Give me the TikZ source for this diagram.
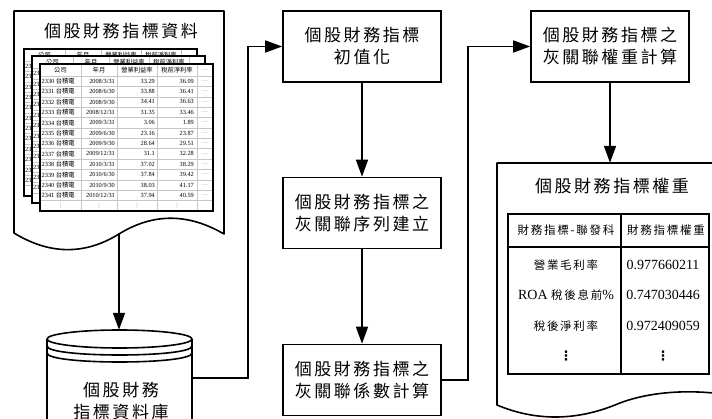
\documentclass[tikz,border=0pt]{standalone}
\usepackage{fontspec}
\setmainfont{Liberation Serif}
\newfontfamily\cjk{Noto Sans CJK TC}
\newfontfamily\cjks[LetterSpace=15]{Noto Sans CJK TC}
\newfontfamily\dejavu{DejaVu Sans}
\usetikzlibrary{arrows.meta}
\newcommand\bigtxt{\cjks\fontsize{17}{22}\selectfont}
\newcommand\midtxt{\cjks\fontsize{11.5}{14}\selectfont}
\newcommand\DS{/}
\tikzset{
  shp/.style={line width=1.6pt, draw=black, fill=white, line join=round},
  procbox/.style={draw, line width=1.6pt, minimum width=158pt, minimum height=71pt, inner sep=0pt, align=center, font=\bigtxt},
  arr/.style={line width=1.6pt, -{Triangle[length=17pt,width=12pt]}},
  gridl/.style={draw=gray!45, line width=0.4pt},
  tcell/.style={inner sep=0pt, font=\fontsize{6.3}{7}\selectfont},
  region/.style={inner sep=0pt, draw=none},
  wcell/.style={inner sep=0pt, font=\fontsize{14}{16}\selectfont},
}
% grid and frame of one sheet
\newcommand\sheetgrid{%
\fill[white] (0,0) rectangle (173,147);
\foreach \xx in {41,77,117,157} \draw[gridl] (\xx,0) -- (\xx,147);
\foreach \r in {0,...,12} \draw[gridl] (0,{12+\r*10.38}) -- (173,{12+\r*10.38});
}
\newcommand\sheethead[1]{%
\node[tcell] (#1-h1) at (20.5,6) {\cjk 公司};
\node[tcell] (#1-h2) at (59,6) {\cjk 年月};
\node[tcell] (#1-h3) at (97,6) {\cjk 營業利益率};
\node[tcell] (#1-h4) at (137,6) {\cjk 稅前淨利率};
}
% sheet seen behind the front one: only its top and left strips show
\newcommand\backtable[3]{%
\begin{scope}[shift={(#1,#2)}]
\sheetgrid
\sheethead{#3}
\foreach \i in {1,...,12}
  \node[tcell, anchor=west] (#3-\i-a) at (1,{12+(\i-0.5)*10.38}) {23};
\draw[line width=2pt] (0,0) rectangle (173,147);
\end{scope}}
% front sheet, fully readable
\newcommand\datatable[3]{%
\begin{scope}[shift={(#1,#2)}]
\sheetgrid
\sheethead{#3}
\node[tcell, text=gray] (#3-h5) at (165,6) {…};
\foreach \i/\a/\b/\c/\d in {1/2330/2008\DS3\DS31/33.29/36.09,
  2/2331/2008\DS6\DS30/33.88/36.41,
  3/2332/2008\DS9\DS30/34.41/36.63,
  4/2333/2008\DS12\DS31/31.35/33.46,
  5/2334/2009\DS3\DS31/3.06/1.89,
  6/2335/2009\DS6\DS30/23.16/23.87,
  7/2336/2009\DS9\DS30/28.64/29.51,
  8/2337/2009\DS12\DS31/31.1/32.28,
  9/2338/2010\DS3\DS31/37.02/38.29,
  10/2339/2010\DS6\DS30/37.84/39.42,
  11/2340/2010\DS9\DS30/38.03/41.17,
  12/2341/2010\DS12\DS31/37.94/40.59} {
  \node[tcell, anchor=west] (#3-\i-a) at (1.5,{12+(\i-0.5)*10.38}) {\a\ {\cjk 台積電}};
  \node[tcell, anchor=east] (#3-\i-b) at (75,{12+(\i-0.5)*10.38}) {\b};
  \node[tcell, anchor=east] (#3-\i-c) at (115,{12+(\i-0.5)*10.38}) {\c};
  \node[tcell, anchor=east] (#3-\i-d) at (154,{12+(\i-0.5)*10.38}) {\d};
  \node[tcell, text=gray] (#3-\i-e) at (165,{12+(\i-0.5)*10.38}) {…};
}
\foreach \k/\xx in {1/20.5,2/59,3/97,4/137}
  \node[tcell, text=gray, font=\dejavu\fontsize{6}{7}\selectfont] (#3-v\k) at (\xx,{12+12.5*10.38}) {⋮};
\draw[line width=2pt] (0,0) rectangle (173,147);
\end{scope}}

\begin{document}
\begin{tikzpicture}[x=1pt,y=-1pt]
\clip (0,0) rectangle (712,419);
\fill[white] (0,0) rectangle (712,419);

% --- source document
\node[region, minimum width=210pt, minimum height=222pt] (doc1) at (119,122) {};
\draw[shp] (14,233) -- (14,11) -- (224,11) -- (224,234)
  .. controls (188,213) and (153,213) .. (119,234)
  .. controls (85,255) and (50,255) .. (14,233) -- cycle;
\node[font=\bigtxt] (doc1title) at (121,31) {個股財務指標資料};
\backtable{24}{49}{tc}
\backtable{32}{56.5}{tb}
\datatable{40}{64}{ta}

% --- database cylinder
\node[region, minimum width=145pt, minimum height=96pt] (cyl) at (119.5,378) {};
\draw[shp] (47,339) -- (47,450) -- (192,450) -- (192,339);
\draw[shp] (119.5,339) ellipse [x radius=72.5, y radius=9];
\draw[line width=1.6pt] (47,346) .. controls (47,358) and (192,358) .. (192,346);
\draw[line width=1.6pt] (47,353) .. controls (47,365) and (192,365) .. (192,353);
\node[font=\bigtxt, align=center] (cyltext) at (121,401) {個股財務\\指標資料庫};

% --- process boxes
\node[procbox] (A) at (362,46.5) {個股財務指標\\初值化};
\node[procbox] (B) at (362,213) {個股財務指標之\\灰關聯序列建立};
\node[procbox] (C) at (362,380) {個股財務指標之\\灰關聯係數計算};
\node[procbox] (D) at (610,46.5) {個股財務指標之\\灰關聯權重計算};

% --- result document
\node[region, minimum width=243pt, minimum height=242pt] (doc2) at (618.5,284) {};
\draw[shp] (497,405) -- (497,163) -- (745,163) -- (745,398)
  .. controls (700,388) and (650,390) .. (615,405)
  .. controls (575,421) and (535,421) .. (497,405) -- cycle;
\node[font=\bigtxt] (doc2title) at (612,186) {個股財務指標權重};
\draw[line width=2.2pt] (508,214) rectangle (709,374);
\draw[line width=2.2pt] (621,214) -- (621,374);
\draw[line width=2.2pt] (508,247) -- (709,247);
\node[font=\midtxt] (wh1) at (566,230.5) {財務指標-聯發科};
\node[font=\midtxt] (wh2) at (666,230.5) {財務指標權重};
\node[font=\midtxt] (wr1a) at (566,265) {營業毛利率};
\node[wcell] (wr2a) at (566,295) {ROA {\midtxt 稅後息前}\%};
\node[font=\midtxt] (wr3a) at (566,326) {稅後淨利率};
\node[wcell, font=\dejavu\bfseries\fontsize{13}{15}\selectfont] (wr4a) at (566,356) {⋮};
\node[wcell] (wr1b) at (663,265) {0.977660211};
\node[wcell] (wr2b) at (663,295) {0.747030446};
\node[wcell] (wr3b) at (663,326) {0.972409059};
\node[wcell, font=\dejavu\bfseries\fontsize{13}{15}\selectfont] (wr4b) at (663,356) {⋮};

% --- connectors
\draw[arr] (doc1.south) -- (doc1.south |- cyl.north);
\draw[arr] (cyl.east) -- ++(56,0) |- (A.west);
\draw[arr] (A) -- (B);
\draw[arr] (B) -- (C);
\draw[arr] (C.east) -- ++(26,0) |- (D.west);
\draw[arr] (D.south) -- (D.south |- doc2.north);
\end{tikzpicture}
\end{document}
